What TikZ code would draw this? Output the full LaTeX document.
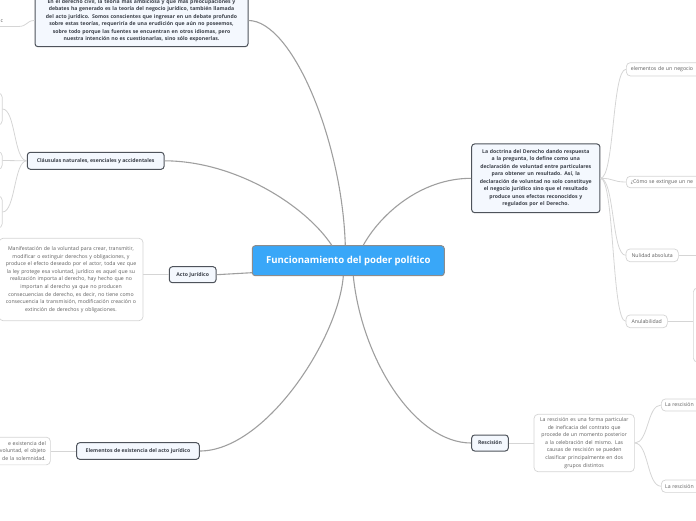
\documentclass[tikz,border=0pt]{standalone}
\usepackage{fontspec}
\setmainfont{Open Sans}
\definecolor{cblue}{HTML}{39A7F8}
\definecolor{cborder}{HTML}{8C8C8C}
\definecolor{lonefill}{HTML}{F4F8FE}
\definecolor{loneborder}{HTML}{4E535B}
\definecolor{lonetext}{HTML}{3B4049}
\definecolor{leafborder}{HTML}{D4D4D4}
\definecolor{leaftext}{HTML}{606060}
\definecolor{mainline}{HTML}{9F9F9F}
\definecolor{leafline}{HTML}{D5D5D5}
\tikzset{
  central/.style={draw=cborder, line width=1pt, fill=cblue, rounded corners=3pt, text=white,
    font=\fontsize{9.6}{11}\selectfont\bfseries, inner sep=0pt, minimum width=192pt, minimum height=30pt},
  lone/.style={draw=loneborder, line width=1pt, fill=lonefill, rounded corners=3pt, text=lonetext,
    font=\fontsize{5.15}{7.5}\selectfont\bfseries, inner sep=0pt, align=center},
  leaf/.style={draw=leafborder, line width=0.7pt, fill=white, rounded corners=4pt, text=leaftext,
    font=\fontsize{5.2}{7.6}\selectfont, inner sep=0pt, align=center},
  mainconn/.style={draw=mainline, line width=1.1pt},
  leafconn/.style={draw=leafline, line width=0.8pt}
}
\begin{document}
\begin{tikzpicture}[x=1pt,y=-1pt]
\useasboundingbox (0,0) rectangle (696,520);

% central
\node[central] (c) at (348.3,260.7) {Funcionamiento del poder político};

% level one
\node[lone, minimum width=213pt, minimum height=52.4pt, text width=207pt] (top) at (141.5,20.5)
 {En el derecho civil, la teoría más ambiciosa y que más preocupaciones y\\ debates ha generado es la teoría del negocio jurídico, también llamada\\ del acto jurídico. Somos conscientes que ingresar en un debate profundo\\ sobre estas teorías, requeriría de una erudición que aún no poseemos,\\ sobre todo porque las fuentes se encuentran en otros idiomas, pero\\ nuestra intención no es cuestionarlas, sino sólo exponerlas.};
\node[lone, minimum width=136.7pt, minimum height=17pt] (cl) at (95.7,160.8) {Cláusulas naturales, esenciales y accidentales};
\node[lone, minimum width=46.7pt, minimum height=16pt] (acto) at (192.7,274.7) {Acto Jurídico};
\node[lone, minimum width=122.6pt, minimum height=16.6pt] (elem) at (138,451) {Elementos de existencia del acto jurídico};
\node[lone, minimum width=36.6pt, minimum height=16pt] (resc) at (490,443) {Rescisión};
\node[lone, minimum width=128.3pt, minimum height=68.7pt, text width=124pt] (doc) at (535.8,178.3)
 {La doctrina del Derecho dando respuesta\\ a la pregunta, lo define como una\\ declaración de voluntad entre particulares\\ para obtener un resultado. Así, la\\ declaración de voluntad no solo constituye\\ el negocio jurídico sino que el resultado\\ produce unos efectos reconocidos y\\ regulados por el Derecho.};

% leaves
\node[leaf, minimum width=144pt, minimum height=82.4pt, text width=138pt] (manif) at (71,279.5)
 {Manifestación de la voluntad para crear, transmitir,\\ modificar o extinguir derechos y obligaciones, y\\ produce el efecto deseado por el actor, toda vez que\\ la ley protege esa voluntad, jurídico es aquel que su\\ realización importa al derecho, hay hecho que no\\ importan al derecho ya que no producen\\ consecuencias de derecho, es decir, no tiene como\\ consecuencia la transmisión, modificación creación o\\ extinción de derechos y obligaciones.};
\node[leaf, minimum width=100.3pt, minimum height=57.4pt, text width=96pt] (rchild) at (584.2,443)
 {La rescisión es una forma particular\\ de ineficacia del contrato que\\ procede de un momento posterior\\ a la celebración del mismo. Las\\ causas de rescisión se pueden\\ clasificar principalmente en dos\\ grupos distintos};
\node[leaf, anchor=east, minimum height=27.7pt, text width=80pt, align=right, inner xsep=4.5pt] (echild) at (50.7,451)
 {e existencia del\\ voluntad, el objeto\\ de la solemnidad.};
\node[leaf, anchor=east, minimum width=40pt, minimum height=32pt] (cla) at (2.5,109) {};
\node[leaf, anchor=east, minimum width=40pt, minimum height=17.6pt] (clb) at (2.5,160.5) {};
\node[leaf, anchor=east, minimum width=40pt, minimum height=32pt] (clc) at (2.5,212) {};
\node[leaf, anchor=west, minimum height=13.3pt, text width=80pt, align=left, inner xsep=4.5pt] (neg) at (626,69.3) {elementos de un negocio};
\node[leaf, anchor=west, minimum height=11.5pt, text width=80pt, align=left, inner xsep=4.5pt] (como) at (626,182) {¿Cómo se extingue un ne};
\node[leaf, minimum width=52.3pt, minimum height=12.7pt] (nul) at (652.2,255.3) {Nulidad absoluta};
\node[leaf, minimum width=41.3pt, minimum height=12.7pt] (anul) at (646.7,321.3) {Anulabilidad};
\node[leaf, anchor=west, minimum width=30pt, minimum height=74pt] (anulc) at (693,325) {};
\node[leaf, anchor=west, minimum height=12pt, text width=50pt, align=left, inner xsep=3.7pt] (ra) at (661,405) {La rescisión};
\node[leaf, anchor=west, minimum height=12.3pt, text width=50pt, align=left, inner xsep=3.7pt] (rb) at (661,486.2) {La rescisión};
\node[text=leaftext, font=\fontsize{5.2}{7.6}\selectfont, anchor=west, inner sep=0pt] (ic) at (-1,20.5) {ic};
\coordinate (icS) at (-5,26.5);
\coordinate (icE) at (18,26.5);
\coordinate (nulR) at (700,255.3);

% main connectors
\draw[mainconn] (top.east) .. controls (292,20.5) and (342,140) .. ([xshift=-3pt]c.north);
\draw[mainconn] (cl.east) .. controls (235,161) and (305,205) .. ([xshift=-16.6pt]c.north);
\draw[mainconn] ([xshift=15pt]c.north) .. controls (380,215) and (420,178.3) .. (doc.west);
\draw[mainconn] (acto.east) -- ([yshift=-12pt]c.west);
\draw[mainconn] (elem.east) .. controls (265,451) and (338,340) .. ([xshift=-5pt]c.south);
\draw[mainconn] ([xshift=5pt]c.south) .. controls (362,360) and (415,443) .. (resc.west);

% leaf connectors
\draw[leafconn] (icS) -- (icE) .. controls (28,26.5) and (26,20.5) .. (top.west);
\draw[leafconn] (acto.west) -- (acto.west -| manif.east);
\draw[leafconn] (echild.east) -- (elem.west);
\draw[leafconn] (resc.east) -- (rchild.west);
\draw[leafconn] (cl.west) .. controls +(-13,0) and +(13,0) .. (cla.east);
\draw[leafconn] (cl.west) -- (clb.east);
\draw[leafconn] (cl.west) .. controls +(-13,0) and +(13,0) .. (clc.east);
\draw[leafconn] (doc.east) .. controls +(14,0) and +(-14,0) .. (neg.west);
\draw[leafconn] (doc.east) .. controls +(14,0) and +(-14,0) .. (como.west);
\draw[leafconn] (doc.east) .. controls +(14,0) and +(-14,0) .. (nul.west);
\draw[leafconn] (doc.east) .. controls +(14,0) and +(-14,0) .. (anul.west);
\draw[leafconn] (nul.east) -- (nulR);
\draw[leafconn] (anul.east) -- (anul.east -| anulc.west);
\draw[leafconn] (rchild.east) .. controls +(14,0) and +(-14,0) .. (ra.west);
\draw[leafconn] (rchild.east) .. controls +(14,0) and +(-14,0) .. (rb.west);
\end{tikzpicture}
\end{document}
